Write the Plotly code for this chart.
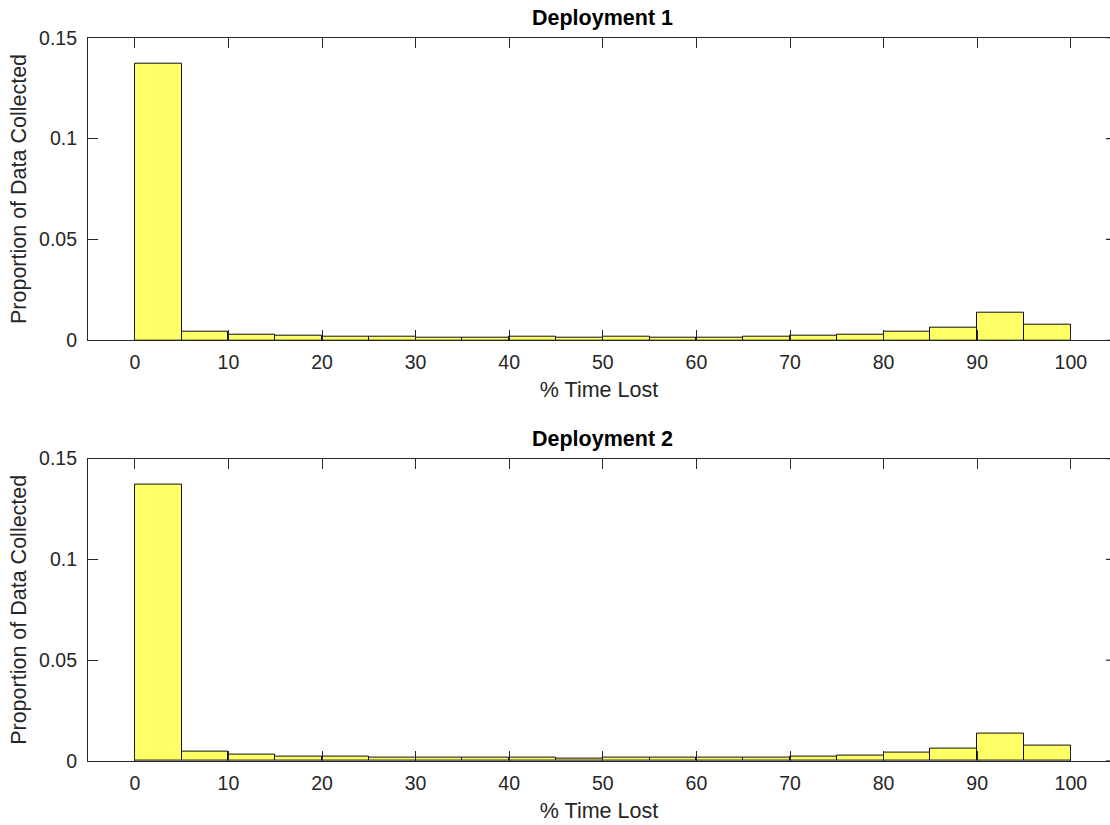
import plotly.graph_objects as go

bin_left = [0, 5, 10, 15, 20, 25, 30, 35, 40, 45, 50, 55, 60, 65, 70, 75, 80, 85, 90, 95]
bin_width = 5
dep1 = [0.137, 0.0042, 0.0028, 0.0021, 0.0018, 0.0017, 0.0015, 0.0014, 0.0016, 0.0015,
        0.0017, 0.0015, 0.0015, 0.0016, 0.0024, 0.0029, 0.0043, 0.0063, 0.0136, 0.0079]
dep2 = [0.137, 0.0045, 0.0031, 0.0023, 0.0021, 0.0018, 0.0017, 0.0016, 0.0016, 0.0014,
        0.0015, 0.0015, 0.0015, 0.0019, 0.0024, 0.0028, 0.0042, 0.0063, 0.0134, 0.0078]
titles = ["Deployment 1", "Deployment 2"]
x_ticks = [0, 10, 20, 30, 40, 50, 60, 70, 80, 90, 100]
y_ticks = [0, 0.05, 0.1, 0.15]
y_tick_text = ["0", "0.05", "0.1", "0.15"]

TXT = "#262626"
FONT = "Liberation Sans, Arial, Helvetica, sans-serif"
W, H = 1110, 825
L_PX = 88
XR = [-5, -5 + (W - L_PX) / 9.36]

centers = [b + bin_width / 2 for b in bin_left]

fig = go.Figure()
domains = [[1 - 340.3 / H, 1 - 37.7 / H], [1 - 761 / H, 1 - 458.6 / H]]
for i, (vals, ttl) in enumerate(zip([dep1, dep2], titles)):
    n = "" if i == 0 else str(i + 1)
    fig.add_trace(go.Bar(
        x=centers, y=vals, width=[bin_width] * len(vals),
        marker=dict(color="#FFFF66", line=dict(color="#111111", width=1)),
        xaxis="x" + n, yaxis="y" + n, showlegend=False, hoverinfo="skip"))
    ax = dict(
        domain=[0, 1], range=XR, anchor="y" + n, automargin=False,
        tickvals=x_ticks, ticktext=[str(v) for v in x_ticks],
        ticks="inside", ticklen=10, tickwidth=1.2, tickcolor=TXT,
        showline=True, linecolor=TXT, linewidth=1.2, mirror="ticks",
        showgrid=False, zeroline=False,
        tickfont=dict(family=FONT, size=19.5, color=TXT),
        title=dict(text="% Time Lost", font=dict(family=FONT, size=21.5, color=TXT), standoff=10),
        ticklabelstandoff=4,
    )
    ay = dict(
        domain=domains[i], range=[0, 0.15], anchor="x" + n, automargin=False,
        tickvals=y_ticks, ticktext=y_tick_text,
        ticks="inside", ticklen=10, tickwidth=1.2, tickcolor=TXT,
        showline=True, linecolor=TXT, linewidth=1.2, mirror=False,
        showgrid=False, zeroline=False,
        tickfont=dict(family=FONT, size=19.5, color=TXT),
        title=dict(text="Proportion of Data Collected", font=dict(family=FONT, size=21.5, color=TXT), standoff=6),
        ticklabelstandoff=6,
    )
    fig.layout["xaxis" + n] = ax
    fig.layout["yaxis" + n] = ay
    fig.add_annotation(text="<b>" + ttl + "</b>", xref="x" + n + " domain", yref="y" + n + " domain",
                       x=(602 - L_PX) / (W - L_PX), y=1, yanchor="bottom", xanchor="center",
                       yshift=6, showarrow=False,
                       font=dict(family=FONT, size=21.5, color="#000000"))
    for v in y_ticks:
        fig.add_shape(type="line", xref="x" + n + " domain", yref="y" + n,
                      x0=1 - 4 / (W - L_PX), x1=1, y0=v, y1=v,
                      line=dict(color=TXT, width=1.2))

fig.update_layout(
    width=W, height=H,
    margin=dict(l=L_PX, r=0, t=0, b=0, autoexpand=False),
    paper_bgcolor="white", plot_bgcolor="white",
    bargap=0,
)
fig.write_html("out.html", config={"displayModeBar": False},
               post_script="document.body.style.margin='0';")
